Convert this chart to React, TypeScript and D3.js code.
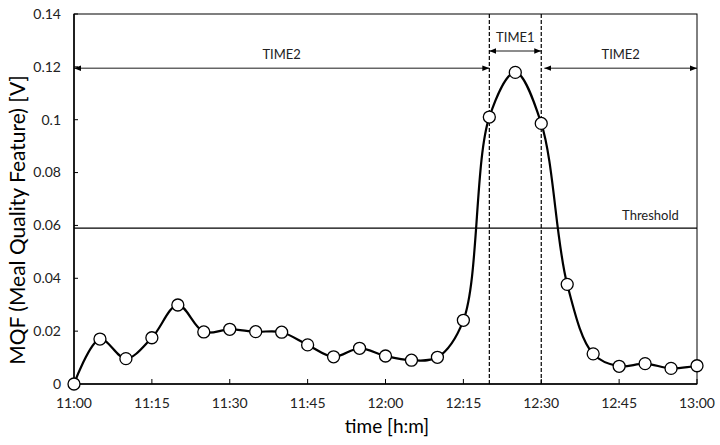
import { useEffect, useRef } from 'react'
import * as d3 from 'd3'

// minutes after 11:00, one sample every 5 min
const minutes = [0, 5, 10, 15, 20, 25, 30, 35, 40, 45, 50, 55, 60, 65, 70, 75, 80, 85, 90, 95, 100, 105, 110, 115, 120]
const mqf = [0, 0.017, 0.0096, 0.0175, 0.0299, 0.0197, 0.0207, 0.0198, 0.0196, 0.0148, 0.0103, 0.0135,
  0.0106, 0.009, 0.0101, 0.0241, 0.101, 0.1179, 0.0986, 0.0377, 0.0114, 0.0067, 0.0077, 0.0059, 0.0069]
const xTicks = [0, 15, 30, 45, 60, 75, 90, 105, 120]
const xTickLabels = ['11:00', '11:15', '11:30', '11:45', '12:00', '12:15', '12:30', '12:45', '13:00']
const yTicks = [0, 0.02, 0.04, 0.06, 0.08, 0.1, 0.12, 0.14]
const threshold = 0.059
const time1 = [80, 90]
const time2Left = [0, 80]
const time2Right = [90.6, 120]

const W = 720
const H = 445
const margin = { top: 14, right: 23, bottom: 61, left: 74 }
const FONT = 'Lato, "Open Sans", sans-serif'

export default function App() {
  const svgRef = useRef<SVGSVGElement>(null)

  useEffect(() => {
    if (!svgRef.current) return
    const svg = d3.select(svgRef.current)
    svg.selectAll('*').remove()

    const x = d3.scaleLinear().domain([0, 120]).range([margin.left, W - margin.right])
    const y = d3.scaleLinear().domain([0, 0.14]).range([H - margin.bottom, margin.top])

    const defs = svg.append('defs')
    defs.append('marker')
      .attr('id', 'arr')
      .attr('viewBox', '0 0 10 10')
      .attr('refX', 10).attr('refY', 5)
      .attr('markerWidth', 7).attr('markerHeight', 7)
      .attr('markerUnits', 'userSpaceOnUse')
      .attr('orient', 'auto-start-reverse')
      .append('path').attr('d', 'M0,1 L10,5 L0,9 Z').attr('fill', '#000')

    // frame
    svg.append('rect')
      .attr('x', x(0)).attr('y', y(0.14))
      .attr('width', x(120) - x(0)).attr('height', y(0) - y(0.14))
      .attr('fill', 'none').attr('stroke', '#000').attr('stroke-width', 1)

    // y ticks + labels
    const yg = svg.append('g')
    yTicks.forEach(t => {
      yg.append('line').attr('x1', x(0)).attr('x2', x(0) + 4).attr('y1', y(t)).attr('y2', y(t)).attr('stroke', '#000')
      yg.append('text')
        .attr('x', x(0) - 13).attr('y', y(t)).attr('dy', '0.35em')
        .attr('text-anchor', 'end').attr('font-size', 14).attr('font-family', FONT).attr('fill', '#222')
        .text(String(t))
    })

    // x ticks + labels
    const xg = svg.append('g')
    xTicks.forEach((t, i) => {
      xg.append('line').attr('x1', x(t)).attr('x2', x(t)).attr('y1', y(0)).attr('y2', y(0) - 5).attr('stroke', '#000')
      xg.append('text')
        .attr('x', x(t)).attr('y', y(0) + 24)
        .attr('text-anchor', 'middle').attr('font-size', 14).attr('font-family', FONT).attr('fill', '#222')
        .text(xTickLabels[i])
    })

    // axis lines (heavier)
    svg.append('line').attr('x1', x(0)).attr('x2', x(0)).attr('y1', y(0)).attr('y2', y(0.14)).attr('stroke', '#000').attr('stroke-width', 1.5)
    svg.append('line').attr('x1', x(0)).attr('x2', x(120)).attr('y1', y(0)).attr('y2', y(0)).attr('stroke', '#000').attr('stroke-width', 1.5)

    // axis titles
    svg.append('text')
      .attr('transform', 'translate(18,220) rotate(-90)')
      .attr('text-anchor', 'middle').attr('dy', '0.35em')
      .attr('font-size', 21).attr('font-family', FONT).attr('fill', '#000')
      .text('MQF (Meal Quality Feature) [V]')
    svg.append('text')
      .attr('x', 387).attr('y', 433)
      .attr('text-anchor', 'middle')
      .attr('font-size', 19).attr('font-family', FONT).attr('fill', '#000')
      .text('time [h:m]')

    // threshold
    svg.append('line').attr('x1', x(0)).attr('x2', x(120)).attr('y1', y(threshold)).attr('y2', y(threshold)).attr('stroke', '#000').attr('stroke-width', 1.2)
    svg.append('text')
      .attr('x', x(116.5)).attr('y', y(threshold) - 8)
      .attr('text-anchor', 'end').attr('font-size', 13).attr('font-family', FONT).attr('fill', '#222')
      .text('Threshold')

    // dashed verticals
    time1.forEach(t => {
      svg.append('line').attr('x1', x(t)).attr('x2', x(t)).attr('y1', y(0.14)).attr('y2', y(0))
        .attr('stroke', '#000').attr('stroke-width', 1.2).attr('stroke-dasharray', '4,2')
    })

    // interval arrows
    const arrows: [number[], number, string][] = [
      [time1, 0.126, 'TIME1'],
      [time2Left, 0.1195, 'TIME2'],
      [time2Right, 0.1195, 'TIME2'],
    ]
    arrows.forEach(([span, v, label]) => {
      svg.append('line')
        .attr('x1', x(span[0])).attr('x2', x(span[1])).attr('y1', y(v)).attr('y2', y(v))
        .attr('stroke', '#000').attr('stroke-width', 0.9)
        .attr('marker-start', 'url(#arr)').attr('marker-end', 'url(#arr)')
      svg.append('text')
        .attr('x', (x(span[0]) + x(span[1])) / 2).attr('y', y(v) - 9)
        .attr('text-anchor', 'middle').attr('font-size', 13).attr('font-family', FONT).attr('fill', '#222')
        .text(label)
    })

    // series
    const pts = minutes.map((m, i) => [m, mqf[i]] as [number, number])
    const line = d3.line<[number, number]>()
      .x(d => x(d[0])).y(d => y(d[1]))
      .curve(d3.curveCatmullRom.alpha(0.5))
    svg.append('path').datum(pts).attr('d', line)
      .attr('fill', 'none').attr('stroke', '#000').attr('stroke-width', 2.2)
    svg.append('g').selectAll('circle').data(pts).enter().append('circle')
      .attr('cx', d => x(d[0])).attr('cy', d => y(d[1])).attr('r', 6)
      .attr('fill', '#fff').attr('stroke', '#000').attr('stroke-width', 1.3)
  }, [])

  return (
    <div style={{ position: 'fixed', left: 0, top: 0, width: W, height: H, background: '#fff' }}>
      <svg ref={svgRef} width={W} height={H} />
    </div>
  )
}
